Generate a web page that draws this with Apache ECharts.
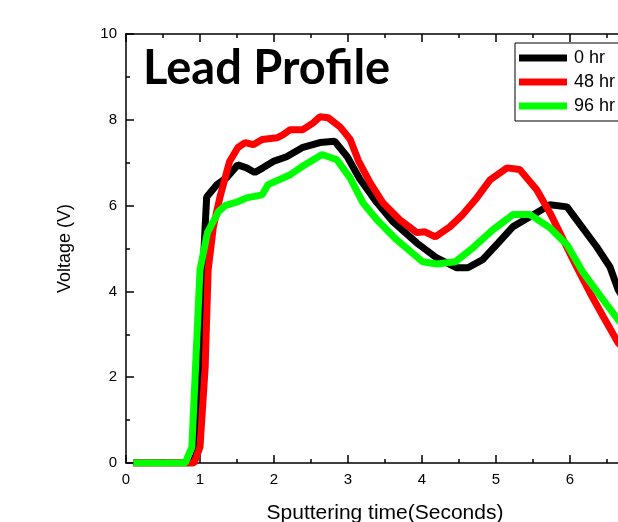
<!DOCTYPE html>
<html>
<head>
<meta charset="utf-8">
<script src="https://cdn.jsdelivr.net/npm/echarts@6/dist/echarts.min.js"></script>
<style>
  html, body { margin: 0; padding: 0; background: #fff; }
  #chart { width: 618px; height: 522px; }
</style>
</head>
<body>
<div id="chart"></div>
<script>
// data
var seriesNames = ['0 hr', '48 hr', '96 hr'];
var xTicks = [0, 1, 2, 3, 4, 5, 6, 7];
var yTicks = [0, 2, 4, 6, 8, 10];

var t0 = [0.1, 0.5, 0.9, 0.97, 1.04, 1.09, 1.23, 1.36, 1.51, 1.63, 1.74, 1.85, 1.99, 2.17, 2.38, 2.62, 2.82, 2.99, 3.16, 3.39, 3.61, 3.93, 4.2, 4.47, 4.62, 4.82, 5.03, 5.23, 5.46, 5.73, 5.96, 6.14, 6.36, 6.54, 6.65, 7.0];
var v0 = [0, 0, 0, 0.3, 4.5, 6.2, 6.49, 6.65, 6.95, 6.88, 6.77, 6.88, 7.03, 7.14, 7.35, 7.47, 7.5, 7.14, 6.62, 6.07, 5.62, 5.13, 4.78, 4.55, 4.55, 4.74, 5.13, 5.51, 5.74, 6.02, 5.97, 5.55, 5.04, 4.57, 4.04, 3.1];

var t48 = [0.1, 0.5, 0.92, 1.0, 1.07, 1.11, 1.18, 1.27, 1.4, 1.51, 1.61, 1.72, 1.84, 2.04, 2.12, 2.22, 2.39, 2.53, 2.62, 2.73, 2.89, 3.03, 3.14, 3.3, 3.47, 3.7, 3.93, 4.04, 4.18, 4.38, 4.55, 4.74, 4.92, 5.15, 5.32, 5.55, 5.73, 5.91, 6.09, 6.27, 6.45, 6.65, 7.0];
var v48 = [0, 0, 0, 0.37, 2.24, 4.5, 5.5, 6.2, 7.03, 7.35, 7.47, 7.42, 7.54, 7.58, 7.65, 7.77, 7.77, 7.93, 8.07, 8.05, 7.84, 7.54, 7.05, 6.53, 6.07, 5.67, 5.37, 5.39, 5.27, 5.51, 5.79, 6.18, 6.6, 6.88, 6.84, 6.37, 5.83, 5.2, 4.57, 3.97, 3.41, 2.8, 2.2];

var t96 = [0.1, 0.5, 0.8, 0.89, 1.0, 1.1, 1.25, 1.34, 1.51, 1.63, 1.84, 1.92, 2.22, 2.38, 2.65, 2.85, 3.03, 3.2, 3.39, 3.66, 4.01, 4.2, 4.45, 4.69, 4.96, 5.23, 5.46, 5.73, 5.96, 6.18, 6.45, 6.65, 7.0];
var v96 = [0, 0, 0, 0.37, 4.5, 5.37, 5.86, 6.0, 6.09, 6.18, 6.25, 6.49, 6.72, 6.91, 7.19, 7.07, 6.64, 6.07, 5.67, 5.2, 4.69, 4.64, 4.69, 5.02, 5.44, 5.79, 5.79, 5.48, 5.09, 4.43, 3.8, 3.34, 2.7];

function pairs(xs, ys) {
    return xs.map(function (x, i) { return [x, ys[i]]; });
}

var chart = echarts.init(document.getElementById('chart'));
var font = 'Liberation Sans, Arial, sans-serif';
var axisLine = { show: true, lineStyle: { color: '#000', width: 1.5 } };
var tick = { inside: true, length: 8, lineStyle: { color: '#000', width: 1.5 } };
var minor = { show: true, splitNumber: 2, length: 4, lineStyle: { color: '#000', width: 1.5 } };

var option = {
    animation: false,
    backgroundColor: '#fff',
    title: {
        text: 'Lead Profile',
        left: 143,
        top: 45,
        padding: 0,
        textStyle: { fontFamily: 'Lato, sans-serif', fontWeight: 'bold', fontSize: 47, color: '#000' }
    },
    legend: {
        orient: 'vertical',
        left: 515,
        top: 43,
        padding: [6, 60, 6, 4],
        itemGap: 6,
        itemWidth: 48,
        itemHeight: 7,
        icon: 'rect',
        borderColor: '#000',
        borderWidth: 1,
        backgroundColor: '#fff',
        textStyle: { fontFamily: font, fontSize: 18, color: '#000', padding: [0, 0, 0, 2] },
        data: seriesNames
    },
    grid: { left: 126, top: 34, bottom: 59, right: -26, outerBoundsMode: 'none' },
    xAxis: [{
        type: 'value',
        min: xTicks[0],
        max: xTicks[xTicks.length - 1],
        interval: 1,
        name: 'Sputtering time(Seconds)',
        nameLocation: 'middle',
        nameGap: 40,
        nameTextStyle: { fontFamily: font, fontSize: 21, color: '#000' },
        axisLine: axisLine,
        axisTick: tick,
        minorTick: minor,
        axisLabel: { fontFamily: font, fontSize: 15, color: '#000', margin: 9 },
        splitLine: { show: false }
    }, {
        type: 'value',
        position: 'top',
        min: xTicks[0],
        max: xTicks[xTicks.length - 1],
        interval: 1,
        axisLine: axisLine,
        axisTick: tick,
        minorTick: minor,
        axisLabel: { show: false },
        splitLine: { show: false }
    }],
    yAxis: [{
        type: 'value',
        min: yTicks[0],
        max: yTicks[yTicks.length - 1],
        interval: 2,
        name: 'Voltage (V)',
        nameLocation: 'middle',
        nameGap: 52,
        nameTextStyle: { fontFamily: font, fontSize: 18, color: '#000' },
        axisLine: axisLine,
        axisTick: tick,
        minorTick: minor,
        axisLabel: { fontFamily: font, fontSize: 15, color: '#000', margin: 9 },
        splitLine: { show: false }
    }],
    series: [{
        name: seriesNames[0],
        type: 'line',
        data: pairs(t0, v0),
        showSymbol: false,
        lineStyle: { color: '#000000', width: 7 },
        itemStyle: { color: '#000000' }
    }, {
        name: seriesNames[1],
        type: 'line',
        data: pairs(t48, v48),
        showSymbol: false,
        lineStyle: { color: '#ff0000', width: 7 },
        itemStyle: { color: '#ff0000' }
    }, {
        name: seriesNames[2],
        type: 'line',
        data: pairs(t96, v96),
        showSymbol: false,
        lineStyle: { color: '#00ff00', width: 7 },
        itemStyle: { color: '#00ff00' }
    }]
};
chart.setOption(option);
</script>
</body>
</html>
